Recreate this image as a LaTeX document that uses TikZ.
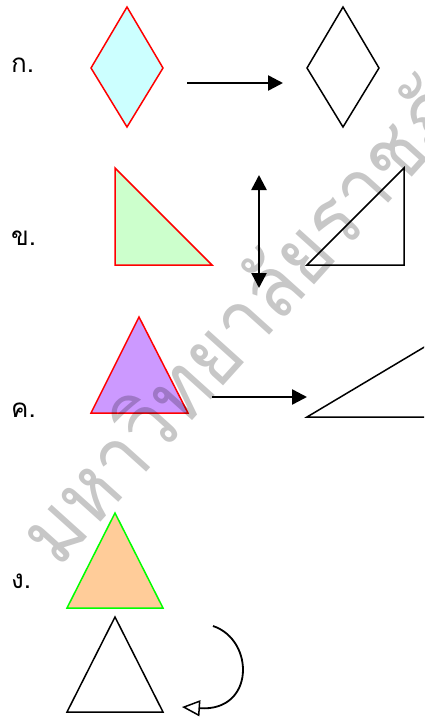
\documentclass[tikz,border=0pt]{standalone}
\usepackage{fontspec}
\usetikzlibrary{arrows.meta}
\newfontfamily\thaifont[Script=Thai]{Loma}
\definecolor{cyanfill}{HTML}{CCFFFF}
\definecolor{greenfill}{HTML}{CCFFCC}
\definecolor{purplefill}{HTML}{CC99FF}
\definecolor{orangefill}{HTML}{FFCC99}
\definecolor{redline}{HTML}{FF0000}
\definecolor{greenline}{HTML}{00FF00}
\begin{document}
\begin{tikzpicture}[x=1pt,y=-1pt,
  redshape/.style={draw=redline,line width=1.5pt,line join=miter},
  greenshape/.style={draw=greenline,line width=1.5pt,line join=miter},
  blackshape/.style={draw=black,line width=1.5pt,line join=miter},
  bigarrow/.style={line width=2.5pt,-{Triangle[length=15pt,width=15pt]}},
  dblarrow/.style={line width=2.5pt,{Triangle[length=15pt,width=15pt]}-{Triangle[length=15pt,width=15pt]}},
  curvearrow/.style={line width=1.8pt,-{Triangle[open,length=18pt,width=16pt,line width=1.5pt]}},
  lbl/.style={anchor=base west,inner sep=0pt,font=\thaifont\fontsize{26}{30}\selectfont},
  wmark/.style={anchor=base west,inner sep=0pt,rotate=48,text=black,text opacity=0.22,font=\thaifont\fontsize{86}{96}\selectfont}
]
\useasboundingbox (0,0) rectangle (424,718);
\begin{scope}
\clip (0,0) rectangle (424,718);
% labels
\node[lbl] (la) at (11,72) {ก.};
\node[lbl] (lb) at (11,245) {ข.};
\node[lbl] (lc) at (11,417) {ค.};
\node[lbl] (ld) at (11,588) {ง.};
% row 1
\path[redshape,fill=cyanfill] (127,7) -- (163,68) -- (127,127) -- (91,68) -- cycle;
\path[blackshape] (343,7) -- (379,68) -- (343,127) -- (307,68) -- cycle;
\coordinate (a1s) at (187,83);
\coordinate (a1e) at (283,83);
\draw[bigarrow] (a1s) -- (a1e);
% row 2
\path[redshape,fill=greenfill] (115,168) -- (212,265) -- (115,265) -- cycle;
\path[blackshape] (307,265) -- (404,265) -- (404,168) -- cycle;
\coordinate (a2s) at (259,175);
\coordinate (a2e) at (259,288);
\draw[dblarrow] (a2s) -- (a2e);
% row 3
\path[redshape,fill=purplefill] (139,317) -- (188,413) -- (91,413) -- cycle;
\path[blackshape] (307,417) -- (520,417) -- (520,290) -- cycle;
\coordinate (a3s) at (212,397);
\coordinate (a3e) at (307,397);
\draw[bigarrow] (a3s) -- (a3e);
% row 4
\path[greenshape,fill=orangefill] (115,513) -- (163,608) -- (67,608) -- cycle;
\path[blackshape] (115,617) -- (163,712) -- (67,712) -- cycle;
\coordinate (a4s) at (213,626);
\coordinate (a4e) at (182,707);
\draw[curvearrow] (a4s) .. controls (255,640) and (255,712) .. (a4e);
% watermark
\node[wmark] (wm) at (58,570) {\scalebox{0.9}[1]{มหาวิทยาลัยราชภัฏ}};
\end{scope}
\end{tikzpicture}
\end{document}
